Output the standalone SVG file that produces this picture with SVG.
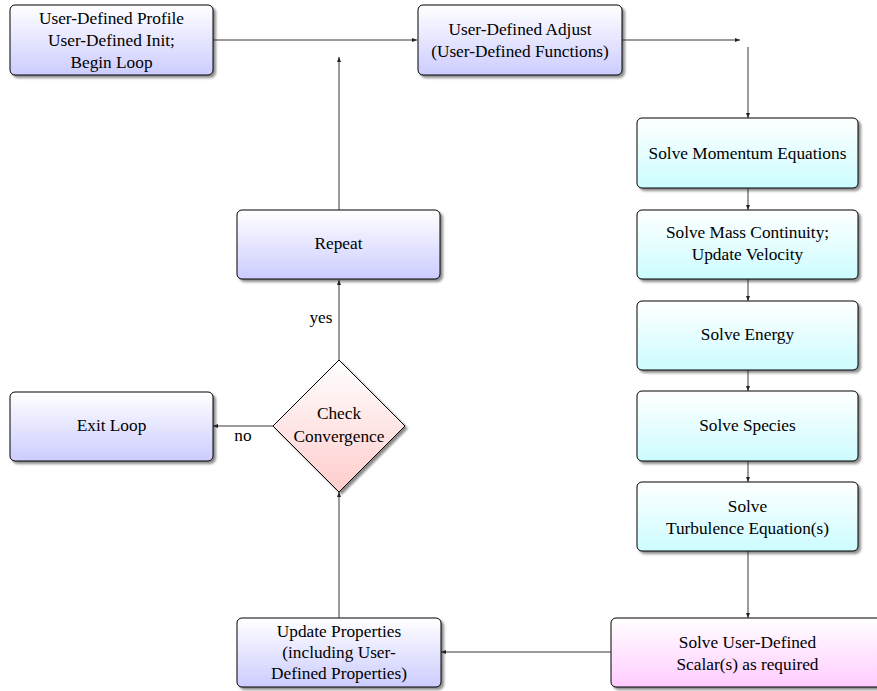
<svg xmlns="http://www.w3.org/2000/svg" width="877" height="691" viewBox="0 0 877 691">
<style>
text{font-family:"Liberation Serif","Times New Roman",serif;font-size:17.3px;fill:#000;text-anchor:middle}
.box{stroke:#000;stroke-width:1}
.conn line{stroke:#222;stroke-width:0.9;fill:none}
.arr{marker-end:url(#ah)}
</style>
<defs>
<linearGradient id="gb" x1="0" y1="0" x2="0" y2="1"><stop offset="0" stop-color="#ffffff"/><stop offset="1" stop-color="#ccccff"/></linearGradient>
<linearGradient id="gc" x1="0" y1="0" x2="0" y2="1"><stop offset="0" stop-color="#ffffff"/><stop offset="1" stop-color="#ccfcff"/></linearGradient>
<linearGradient id="gp" x1="0" y1="0" x2="0" y2="1"><stop offset="0" stop-color="#ffffff"/><stop offset="1" stop-color="#ffccff"/></linearGradient>
<linearGradient id="gr" x1="0" y1="0" x2="0" y2="1"><stop offset="0" stop-color="#ffffff"/><stop offset="1" stop-color="#ffcccc"/></linearGradient>
<filter id="sh" x="-10%" y="-10%" width="130%" height="130%">
<feDropShadow dx="2.5" dy="2.5" stdDeviation="1" flood-color="#000" flood-opacity="0.45"/>
</filter>
<marker id="ah" markerUnits="userSpaceOnUse" markerWidth="6" markerHeight="6" viewBox="0 0 6 6" refX="5" refY="3" orient="auto">
<path d="M0,1 L5,3 L0,5 Z" fill="#222"/>
</marker>
</defs>

<g id="n-profile"><rect class="box" x="10" y="5" width="203" height="70" rx="5" fill="url(#gb)" filter="url(#sh)"/>
<text x="111.5" y="24">User-Defined Profile</text><text x="111.5" y="46">User-Defined Init;</text><text x="111.5" y="68">Begin Loop</text></g>

<g id="n-adjust"><rect class="box" x="418" y="5" width="204" height="70" rx="5" fill="url(#gb)" filter="url(#sh)"/>
<text x="520" y="35">User-Defined Adjust</text><text x="520" y="57">(User-Defined Functions)</text></g>

<g id="n-momentum"><rect class="box" x="637" y="118" width="221" height="70" rx="5" fill="url(#gc)" filter="url(#sh)"/>
<text x="747.5" y="159">Solve Momentum Equations</text></g>

<g id="n-mass"><rect class="box" x="637" y="210" width="221" height="69" rx="5" fill="url(#gc)" filter="url(#sh)"/>
<text x="747.5" y="238">Solve Mass Continuity;</text><text x="747.5" y="260">Update Velocity</text></g>

<g id="n-energy"><rect class="box" x="637" y="301" width="221" height="69" rx="5" fill="url(#gc)" filter="url(#sh)"/>
<text x="747.5" y="340">Solve Energy</text></g>

<g id="n-species"><rect class="box" x="637" y="391" width="221" height="70" rx="5" fill="url(#gc)" filter="url(#sh)"/>
<text x="747.5" y="431">Solve Species</text></g>

<g id="n-turb"><rect class="box" x="637" y="482" width="221" height="69" rx="5" fill="url(#gc)" filter="url(#sh)"/>
<text x="747.5" y="512">Solve</text><text x="747.5" y="534">Turbulence Equation(s)</text></g>

<g id="n-uds"><rect class="box" x="611" y="618" width="273" height="69" rx="5" fill="url(#gp)" filter="url(#sh)"/>
<text x="747.5" y="648">Solve User-Defined</text><text x="747.5" y="670">Scalar(s) as required</text></g>

<g id="n-update"><rect class="box" x="237" y="618" width="204" height="69" rx="5" fill="url(#gb)" filter="url(#sh)"/>
<text x="339" y="637">Update Properties</text><text x="339" y="658">(including User-</text><text x="339" y="679">Defined Properties)</text></g>

<g id="n-check"><path class="box" d="M339,360 L405,426 L339,492 L273,426 Z" fill="url(#gr)" filter="url(#sh)"/>
<text x="339" y="419">Check</text><text x="339" y="442">Convergence</text></g>

<g id="n-repeat"><rect class="box" x="237" y="210" width="203" height="69" rx="5" fill="url(#gb)" filter="url(#sh)"/>
<text x="338.5" y="249">Repeat</text></g>

<g id="n-exit"><rect class="box" x="10" y="392" width="203" height="69" rx="5" fill="url(#gb)" filter="url(#sh)"/>
<text x="111.5" y="431">Exit Loop</text></g>

<g id="connectors" class="conn">
<line class="arr" x1="213" y1="40" x2="417" y2="40"/>
<line class="arr" x1="622" y1="40" x2="740" y2="40"/>
<line class="arr" x1="748" y1="47" x2="748" y2="118"/>
<line class="arr" x1="748" y1="188" x2="748" y2="210"/>
<line class="arr" x1="748" y1="279" x2="748" y2="301"/>
<line class="arr" x1="748" y1="370" x2="748" y2="391"/>
<line class="arr" x1="748" y1="461" x2="748" y2="482"/>
<line class="arr" x1="748" y1="551" x2="748" y2="618"/>
<line class="arr" x1="611" y1="652" x2="441" y2="652"/>
<line class="arr" x1="339" y1="618" x2="339" y2="492"/>
<line class="arr" x1="339" y1="360" x2="339" y2="280"/>
<line class="arr" x1="339" y1="210" x2="339" y2="57"/>
<line class="arr" x1="273" y1="426" x2="213" y2="426"/>
<text x="321" y="323">yes</text>
<text x="243" y="441">no</text>
</g>
</svg>
